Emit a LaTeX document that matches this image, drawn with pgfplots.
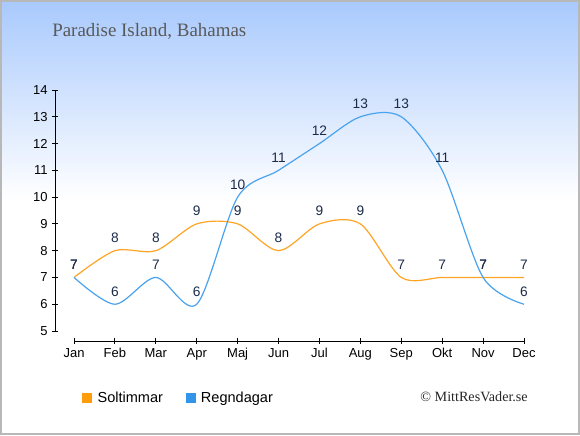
\documentclass[border=0pt]{standalone}
\usepackage{pgfplots}
\pgfplotsset{compat=1.18}
\usepackage{fontspec}
\setmainfont{Liberation Sans}
\newfontfamily\serif{Liberation Serif}
\definecolor{sol}{HTML}{FFA526}
\definecolor{regn}{HTML}{4AA3EE}
\definecolor{sq1}{HTML}{FF9C0A}
\definecolor{sq2}{HTML}{3395EA}
\definecolor{lab}{HTML}{1C2B4A}
\definecolor{bgtop}{HTML}{A8C9FD}
\begin{document}
\begin{tikzpicture}[x=0.75pt,y=0.75pt]
\useasboundingbox (0,0) rectangle (580,435);
\fill[white] (0,0) rectangle (580,435);
\shade[top color=bgtop, bottom color=white] (0,235) rectangle (580,435);
\draw[color=black!28, line width=1.2pt] (0.8,0.8) rectangle (579.2,434.2);
\node[font=\serif\fontsize{14.2pt}{16pt}\selectfont, text=black!65, anchor=west, inner sep=0pt] at (52,404) {Paradise Island, Bahamas};
\node[font=\serif\fontsize{10.6pt}{12pt}\selectfont, anchor=east, text=black!85, inner sep=0pt] at (528,38) {© MittResVader.se};
\begin{axis}[
  at={(41.25pt,78pt)}, anchor=south west,
  scale only axis, width=351.75pt, height=180.75pt,
  xmin=-0.465, xmax=11, ymin=5, ymax=14,
  axis x line*=bottom, axis y line*=left,
  axis x line shift=7.5pt,
  x axis line style={shorten <=14.25pt},
  axis line style={line width=0.75pt},
  xtick={0,...,11},
  xticklabels={Jan,Feb,Mar,Apr,Maj,Jun,Jul,Aug,Sep,Okt,Nov,Dec},
  ytick={5,...,14},
  tick align=center, major tick length=4pt,
  tick style={black, line width=0.75pt},
  ticklabel style={font=\fontsize{9.75pt}{11pt}\selectfont},
  /pgf/number format/assume math mode=true,
  clip=false,
  every node near coord/.append style={font=\fontsize{10.3pt}{12pt}\selectfont, text=lab, anchor=base, inner sep=0pt, yshift=6pt},
  legend columns=2,
  legend style={draw=none, fill=none, at={(0.049,-0.278)}, anchor=west, font=\fontsize{10.9pt}{12pt}\selectfont, /tikz/every even column/.append style={column sep=15pt}},
  legend cell align=left,
]
\addplot[smooth, color=sol, line width=0.9pt, nodes near coords,
  legend image code/.code={\fill[sq1,draw=none] (0pt,-3.75pt) rectangle (7.5pt,3.75pt); \path[draw=none,fill=none] (0pt,0pt) rectangle (9.5pt,0.1pt);}]
  coordinates {(0,7) (1,8) (2,8) (3,9) (4,9) (5,8) (6,9) (7,9) (8,7) (9,7) (10,7) (11,7)};
\addlegendentry{Soltimmar}
\addplot[smooth, color=regn, line width=0.9pt, nodes near coords,
  legend image code/.code={\fill[sq2,draw=none] (0pt,-3.75pt) rectangle (7.5pt,3.75pt); \path[draw=none,fill=none] (0pt,0pt) rectangle (9.5pt,0.1pt);}]
  coordinates {(0,7) (1,6) (2,7) (3,6) (4,10) (5,11) (6,12) (7,13) (8,13) (9,11) (10,7) (11,6)};
\addlegendentry{Regndagar}
\end{axis}
\end{tikzpicture}
\end{document}
